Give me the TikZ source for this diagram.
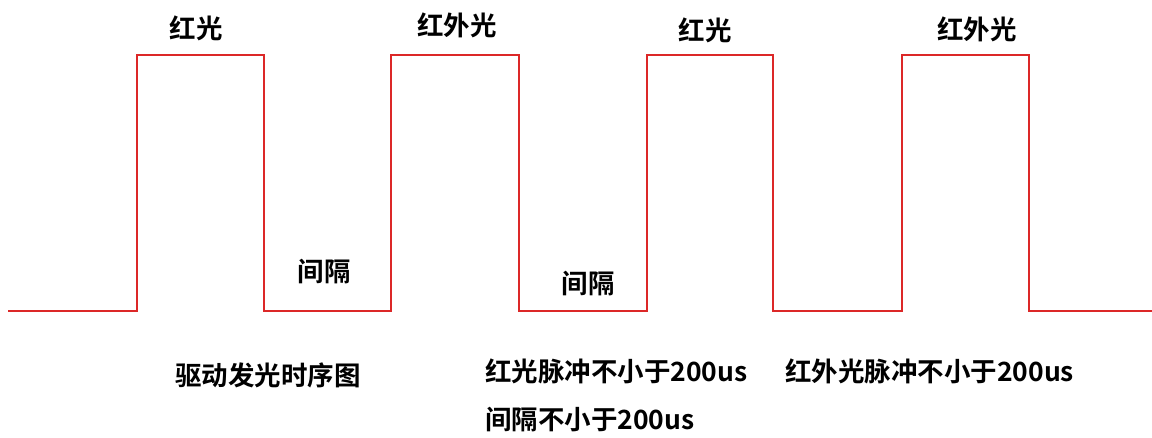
\documentclass[tikz,border=0pt]{standalone}
\usepackage{fontspec}
\setmainfont{Noto Sans CJK SC Bold}
\begin{document}
\begin{tikzpicture}[x=1pt,y=-1pt,
  wave/.style={draw={rgb,255:red,220;green,40;blue,40},line width=1.5pt,line join=miter},
  lbl/.style={inner sep=0pt,font=\fontsize{26.5}{30}\selectfont},
  lblw/.style={lbl,anchor=west}]
\useasboundingbox (0,0) rectangle (1152,438);
\fill[white] (0,0) rectangle (1152,438);
% waveform coordinates
\coordinate (s) at (8,311);
\coordinate (r1) at (137,311); \coordinate (r1h) at (137,55);
\coordinate (f1h) at (264,55); \coordinate (f1) at (264,311);
\coordinate (r2) at (391,311); \coordinate (r2h) at (391,55);
\coordinate (f2h) at (519,55); \coordinate (f2) at (519,311);
\coordinate (r3) at (647,311); \coordinate (r3h) at (647,55);
\coordinate (f3h) at (773,55); \coordinate (f3) at (773,311);
\coordinate (r4) at (902,311); \coordinate (r4h) at (902,55);
\coordinate (f4h) at (1029,55); \coordinate (f4) at (1029,311);
\coordinate (e) at (1152,311);
\draw[wave] (s) -- (r1) -- (r1h) -- (f1h) -- (f1) -- (r2) -- (r2h) -- (f2h) -- (f2) -- (r3) -- (r3h) -- (f3h) -- (f3) -- (r4) -- (r4h) -- (f4h) -- (f4) -- (e);
% labels
\node[lbl] (t1) at (196,28) {红光};
\node[lbl] (t2) at (457,25) {红外光};
\node[lbl] (t3) at (705,30) {红光};
\node[lbl] (t4) at (977,29) {红外光};
\node[lbl] (g1) at (324,272) {间隔};
\node[lbl] (g2) at (588,284) {间隔};
\node[lblw] (cap) at (175,375) {驱动发光时序图};
\node[lblw] (n1) at (485,371) {红光脉冲不小于200us};
\node[lblw] (n2) at (785,371) {红外光脉冲不小于200us};
\node[lblw] (n3) at (485,420) {间隔不小于200us};
\end{tikzpicture}
\end{document}
